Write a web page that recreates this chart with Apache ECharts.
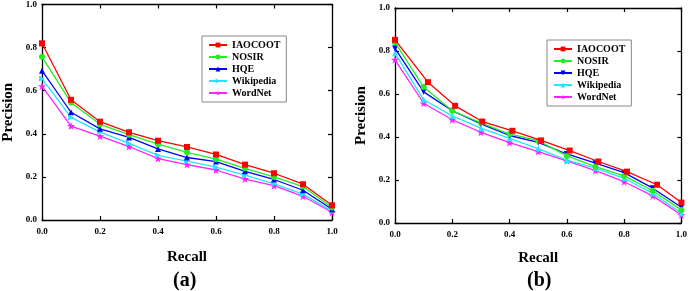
<!DOCTYPE html>
<html><head><meta charset="utf-8">
<script src="https://cdn.jsdelivr.net/npm/echarts@6/dist/echarts.min.js"></script>
<style>html,body{margin:0;padding:0;background:#fff}#c{width:690px;height:291px}</style>
</head><body><div id="c"></div>
<script>
const seriesNames = ['IAOCOOT', 'NOSIR', 'HQE', 'Wikipedia', 'WordNet'];
const recall = [0, 0.1, 0.2, 0.3, 0.4, 0.5, 0.6, 0.7, 0.8, 0.9, 1.0];
const recallB_IAOCOOT = [0, 0.115, 0.21, 0.305, 0.41, 0.51, 0.61, 0.71, 0.81, 0.915, 1.0];
const axisTicks = [0, 0.2, 0.4, 0.6, 0.8, 1.0];

// Chart (a)
const a_IAOCOOT   = [0.82, 0.558, 0.456, 0.407, 0.368, 0.339, 0.304, 0.257, 0.217, 0.166, 0.068];
const a_NOSIR     = [0.757, 0.545, 0.444, 0.396, 0.352, 0.314, 0.282, 0.240, 0.200, 0.155, 0.058];
const a_HQE       = [0.693, 0.500, 0.423, 0.383, 0.330, 0.290, 0.271, 0.226, 0.188, 0.138, 0.050];
const a_Wikipedia = [0.656, 0.476, 0.408, 0.356, 0.300, 0.273, 0.245, 0.208, 0.168, 0.120, 0.042];
const a_WordNet   = [0.621, 0.436, 0.389, 0.341, 0.285, 0.257, 0.232, 0.190, 0.159, 0.110, 0.036];

// Chart (b)
const b_IAOCOOT   = [0.852, 0.655, 0.545, 0.472, 0.429, 0.384, 0.337, 0.286, 0.239, 0.178, 0.095];
const b_NOSIR     = [0.840, 0.632, 0.522, 0.466, 0.414, 0.383, 0.312, 0.262, 0.219, 0.150, 0.061];
const b_HQE       = [0.812, 0.610, 0.522, 0.461, 0.407, 0.375, 0.321, 0.278, 0.234, 0.162, 0.073];
const b_Wikipedia = [0.790, 0.573, 0.498, 0.441, 0.394, 0.346, 0.293, 0.255, 0.208, 0.138, 0.045];
const b_WordNet   = [0.759, 0.557, 0.480, 0.422, 0.374, 0.332, 0.289, 0.244, 0.192, 0.126, 0.037];

const colors = ['#ff0000', '#22ee22', '#0000ff', '#22e5ff', '#ff22ff'];
const star = 'path://M0,-10 L2.35,-3.24 L9.51,-3.09 L3.8,1.24 L5.88,8.09 L0,4 L-5.88,8.09 L-3.8,1.24 L-9.51,-3.09 L-2.35,-3.24 Z';
const FONT = '"Liberation Serif", "Times New Roman", serif';

function pairs(xs, ys) { return ys.map((y, i) => [xs[i], y]); }

const aData = [a_IAOCOOT, a_NOSIR, a_HQE, a_Wikipedia, a_WordNet];
const bData = [b_IAOCOOT, b_NOSIR, b_HQE, b_Wikipedia, b_WordNet];
const aSym = [['rect', 0], ['circle', 0], ['triangle', 0], ['triangle', -90], [star, 0]];
const bSym = [['rect', 0], ['circle', 0], ['triangle', 180], ['triangle', 0], [star, 0]];
const bX = [recallB_IAOCOOT, recall, recall, recall, recall];
// names of chart (b) series carry a trailing space so each legend picks its own chart's markers
const bNames = seriesNames.map(n => n + ' ');

function xAxes(gi) {
  const base = {
    type: 'value', gridIndex: gi, min: 0, max: 1, interval: 0.2,
    axisLine: { show: true, onZero: false, lineStyle: { color: '#000', width: 1.3 } },
    axisTick: { show: true, inside: true, length: 4, lineStyle: { color: '#000', width: 1.2 } },
    splitLine: { show: false }
  };
  return [
    Object.assign({}, base, {
      position: 'bottom',
      axisLabel: { fontFamily: FONT, fontWeight: 'bold', fontSize: 9, color: '#000', margin: 7, formatter: v => v.toFixed(1) },
      name: 'Recall', nameLocation: 'middle', nameGap: gi === 0 ? 30 : 28,
      nameTextStyle: { fontFamily: FONT, fontWeight: 'bold', fontSize: 15, color: '#000' }
    }),
    Object.assign({}, base, { position: 'top', axisLabel: { show: false } })
  ];
}
function yAxes(gi) {
  const base = {
    type: 'value', gridIndex: gi, min: 0, max: 1, interval: 0.2,
    axisLine: { show: true, onZero: false, lineStyle: { color: '#000', width: 1.3 } },
    axisTick: { show: true, inside: true, length: 4, lineStyle: { color: '#000', width: 1.2 } },
    splitLine: { show: false }
  };
  return [
    Object.assign({}, base, {
      position: 'left',
      axisLabel: { fontFamily: FONT, fontWeight: 'bold', fontSize: 9, color: '#000', margin: 5, formatter: v => v.toFixed(1) },
      name: 'Precision', nameLocation: 'middle', nameGap: 26,
      nameTextStyle: { fontFamily: FONT, fontWeight: 'bold', fontSize: 15, color: '#000' }
    }),
    Object.assign({}, base, { position: 'right', axisLabel: { show: false } })
  ];
}

const series = [];
seriesNames.forEach((n, i) => {
  series.push({
    name: n, type: 'line', xAxisIndex: 0, yAxisIndex: 0,
    data: pairs(recall, aData[i]),
    symbol: aSym[i][0], symbolRotate: aSym[i][1], symbolSize: aSym[i][0] === star ? 8 : 6,
    lineStyle: { color: colors[i], width: 1.3 }, itemStyle: { color: colors[i] },
    clip: false, z: 10 - i, animation: false
  });
});
bNames.forEach((n, i) => {
  series.push({
    name: n, type: 'line', xAxisIndex: 2, yAxisIndex: 2,
    data: pairs(bX[i], bData[i]),
    symbol: bSym[i][0], symbolRotate: bSym[i][1], symbolSize: bSym[i][0] === star ? 8 : 6,
    lineStyle: { color: colors[i], width: 1.3 }, itemStyle: { color: colors[i] },
    clip: false, z: 10 - i, animation: false
  });
});

function legend(left, top, names) {
  return {
    left: left, top: top, orient: 'vertical',
    itemWidth: 18, itemHeight: 6, itemGap: 0,
    padding: [3, 6, 3, 6],
    borderColor: '#888', borderWidth: 1,
    textStyle: { fontFamily: FONT, fontWeight: 'bold', fontSize: 10, color: '#000', lineHeight: 12 },
    selectedMode: false,
    formatter: n => n.trim(),
    data: names
  };
}

const chart = echarts.init(document.getElementById('c'), null, { renderer: 'canvas' });
chart.setOption({
  animation: false,
  grid: [
    { left: 42, right: 358, top: 4, bottom: 71 },
    { left: 395, right: 7, top: 8, bottom: 68 }
  ],
  xAxis: xAxes(0).concat(xAxes(1)),
  yAxis: yAxes(0).concat(yAxes(1)),
  legend: [legend(202, 36, seriesNames), legend(547, 40, bNames)],
  graphic: [
    { type: 'text', left: 187 - 14, top: 271, style: { text: '(a)', font: 'bold 20px ' + FONT, fill: '#000' } },
    { type: 'text', left: 541 - 14, top: 271, style: { text: '(b)', font: 'bold 20px ' + FONT, fill: '#000' } }
  ],
  series: series
});
</script></body></html>
